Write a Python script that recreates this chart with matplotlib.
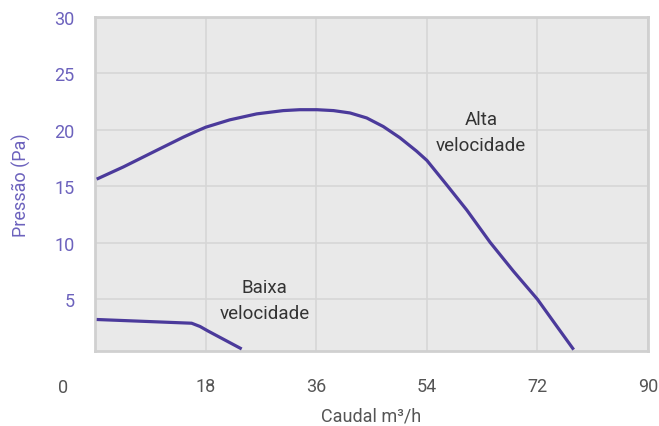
import matplotlib
matplotlib.use("Agg")
import matplotlib.pyplot as plt

plt.rcParams['font.family'] = ['Roboto', 'DejaVu Sans']

# Data
high_x = [0.24, 4.58, 10.0, 14.35, 16.5, 18.0, 21.9, 26.3, 30.6, 33.3, 36.1, 38.8, 41.5, 44.2,
          46.9, 49.6, 52.3, 54.0, 57.2, 60.5, 64.3, 68.1, 72.0, 75.1, 77.9]
high_y = [15.64, 16.72, 18.19, 19.36, 19.89, 20.24, 20.89, 21.42, 21.71, 21.79, 21.79, 21.71, 21.5, 21.06,
          20.3, 19.31, 18.13, 17.3, 15.15, 12.9, 10.04, 7.48, 5.0, 2.65, 0.54]
low_x = [0.24, 15.7, 17.07, 18.4, 23.85]
low_y = [3.21, 2.88, 2.59, 2.18, 0.60]

x_ticks = [18, 36, 54, 72, 90]
y_ticks = [5, 10, 15, 20, 25, 30]

line_color = '#4b3a9b'
purple_text = '#6c62bd'
gray_text = '#555555'

W, H = 659, 427
fig = plt.figure(figsize=(W/100, H/100), dpi=100)
L, R, T, B = 95.2, 648.0, 18.0, 352.0
ax = fig.add_axes([L/W, 1-B/H, (R-L)/W, (B-T)/H])
ax.set_facecolor('#e9e9e9')
ax.set_xlim(0, 90)
ax.set_ylim(0.42, 29.8)

ax.plot(high_x, high_y, color=line_color, lw=2.3, solid_capstyle='butt', solid_joinstyle='round', zorder=3)
ax.plot(low_x, low_y, color=line_color, lw=2.3, solid_capstyle='butt', solid_joinstyle='round', zorder=3)

ax.set_xticks(x_ticks)
ax.set_yticks(y_ticks)
ax.grid(True, color='#d6d6d6', lw=1.2)
ax.set_axisbelow(True)
for s in ax.spines.values():
    s.set_color('#d0d0d0')
    s.set_linewidth(2)
ax.tick_params(length=0)
ax.tick_params(axis='x', colors=gray_text, labelsize=13, pad=19)
ax.tick_params(axis='y', colors=purple_text, labelsize=13, pad=15)

# corner "0" label
fig.text(63/W, 1-388/H, '0', ha='center', va='center', fontsize=13, color=gray_text)

ax.set_xlabel('Caudal m³/h', color=gray_text, fontsize=13, labelpad=8)
ax.set_ylabel('Pressão (Pa)', color=purple_text, fontsize=13, labelpad=16.5)

ax.text(27.6, 4.95, 'Baixa\nvelocidade', ha='center', va='center', fontsize=13.5,
        color='#333333', linespacing=1.55)
ax.text(62.8, 19.8, 'Alta\nvelocidade', ha='center', va='center', fontsize=13.5,
        color='#333333', linespacing=1.55)

fig.savefig('out.png', dpi=100)
